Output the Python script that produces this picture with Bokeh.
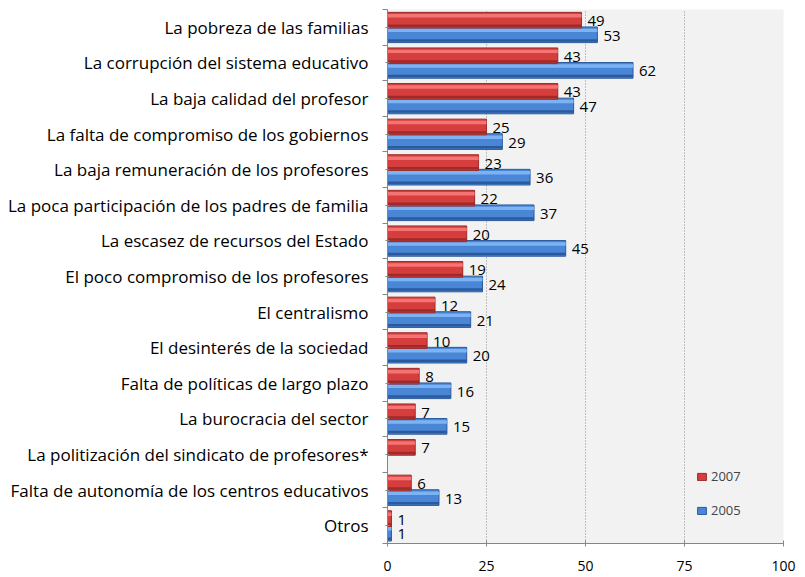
from bokeh.plotting import figure
from bokeh.models import Range1d, FixedTicker, ColumnDataSource, Legend, LegendItem
from bokeh.core.properties import value
from bokeh.embed import file_html
from bokeh.resources import INLINE

categories = [
    "La pobreza de las familias",
    "La corrupción del sistema educativo",
    "La baja calidad del profesor",
    "La falta de compromiso de los gobiernos",
    "La baja remuneración de los profesores",
    "La poca participación de los padres de familia",
    "La escasez de recursos del Estado",
    "El poco compromiso de los profesores",
    "El centralismo",
    "El desinterés de la sociedad",
    "Falta de políticas de largo plazo",
    "La burocracia del sector",
    "La politización del sindicato de profesores*",
    "Falta de autonomía de los centros educativos",
    "Otros",
]
values_2007 = [49, 43, 43, 25, 23, 22, 20, 19, 12, 10, 8, 7, 7, 6, 1]
values_2005 = [53, 62, 47, 29, 36, 37, 45, 24, 21, 20, 16, 15, None, 13, 1]
x_ticks = [0, 25, 50, 75, 100]

FONT = "Open Sans"
FONT_V = value(FONT)
n = len(categories)
centers = [n - 1 - i for i in range(n)]

p = figure(width=805, height=577, output_backend="svg", toolbar_location=None,
           x_range=Range1d(0, 100), y_range=Range1d(-0.5, n - 0.5),
           min_border_left=387, min_border_right=22, min_border_top=9, min_border_bottom=34)
p.outline_line_color = None
p.background_fill_color = "#f2f2f2"
p.border_fill_color = "white"

RED_OFF, BLUE_OFF, H = 0.2, -0.21, 0.44


def bars(vals, off, base, light, dark):
    ys = [c + off for c, v in zip(centers, vals) if v is not None]
    xs = [v for v in vals if v is not None]
    src = ColumnDataSource(dict(y=ys, right=xs))
    main = p.hbar(y="y", right="right", left=0, height=H, source=src,
                  fill_color=base, line_color=dark, line_width=1)
    src_hi = ColumnDataSource(dict(y=[y + H * 0.28 for y in ys], right=xs))
    p.hbar(y="y", right="right", left=0, height=H * 0.22, source=src_hi,
           fill_color=light, line_color=None)
    src_lo = ColumnDataSource(dict(y=[y - H * 0.36 for y in ys], right=xs))
    p.hbar(y="y", right="right", left=0, height=H * 0.16, source=src_lo,
           fill_color=dark, line_color=None)
    lab = ColumnDataSource(dict(x=xs, y=ys, t=[str(v) for v in xs]))
    p.text(x="x", y="y", text="t", source=lab, x_offset=6, y_offset=1, text_baseline="middle",
           text_align="left", text_font=FONT_V, text_font_size="15px", text_color="#000000")
    return main


r05 = bars(values_2005, BLUE_OFF, "#4a86d6", "#7db3f2", "#2b5a9c")
r07 = bars(values_2007, RED_OFF, "#d63e3e", "#f47474", "#9c2b2a")

p.xgrid.ticker = FixedTicker(ticks=x_ticks[1:])
p.xgrid.grid_line_color = "#8c8c8c"
p.xgrid.grid_line_dash = "1 2"
p.ygrid.grid_line_color = None

p.xaxis.ticker = FixedTicker(ticks=x_ticks)
p.xaxis.axis_line_color = "#868686"
p.xaxis.major_tick_line_color = "#868686"
p.xaxis.major_tick_in = 3
p.xaxis.major_tick_out = 3
p.xaxis.minor_tick_line_color = None
p.xaxis.major_label_standoff = 14
p.xaxis.major_label_text_font = FONT
p.xaxis.major_label_text_font_size = "14px"
p.xaxis.major_label_text_color = "#000000"

p.yaxis.ticker = FixedTicker(ticks=centers, minor_ticks=[c + 0.5 for c in range(-1, n)])
p.yaxis.major_label_overrides = {c: cat for c, cat in zip(centers, categories)}
p.yaxis.axis_line_color = "#868686"
p.yaxis.major_tick_line_color = "#868686"
p.yaxis.major_tick_in = 2
p.yaxis.major_tick_out = 2
p.yaxis.minor_tick_line_color = "#868686"
p.yaxis.minor_tick_in = 0
p.yaxis.minor_tick_out = 5
p.yaxis.major_label_standoff = 14
p.yaxis.major_label_text_font = FONT
p.yaxis.major_label_text_font_size = "17px"
p.yaxis.major_label_text_color = "#000000"

legend = Legend(items=[LegendItem(label="2007", renderers=[r07]),
                       LegendItem(label="2005", renderers=[r05])],
                location=(309, 24), orientation="vertical")
legend.background_fill_alpha = 0
legend.border_line_color = None
legend.padding = 0
legend.margin = 0
legend.spacing = 16
legend.glyph_width = 11
legend.glyph_height = 9
legend.label_standoff = 4
legend.label_text_font = FONT
legend.label_text_font_size = "13px"
p.add_layout(legend)

open("out.html", "w").write(file_html(p, INLINE))
